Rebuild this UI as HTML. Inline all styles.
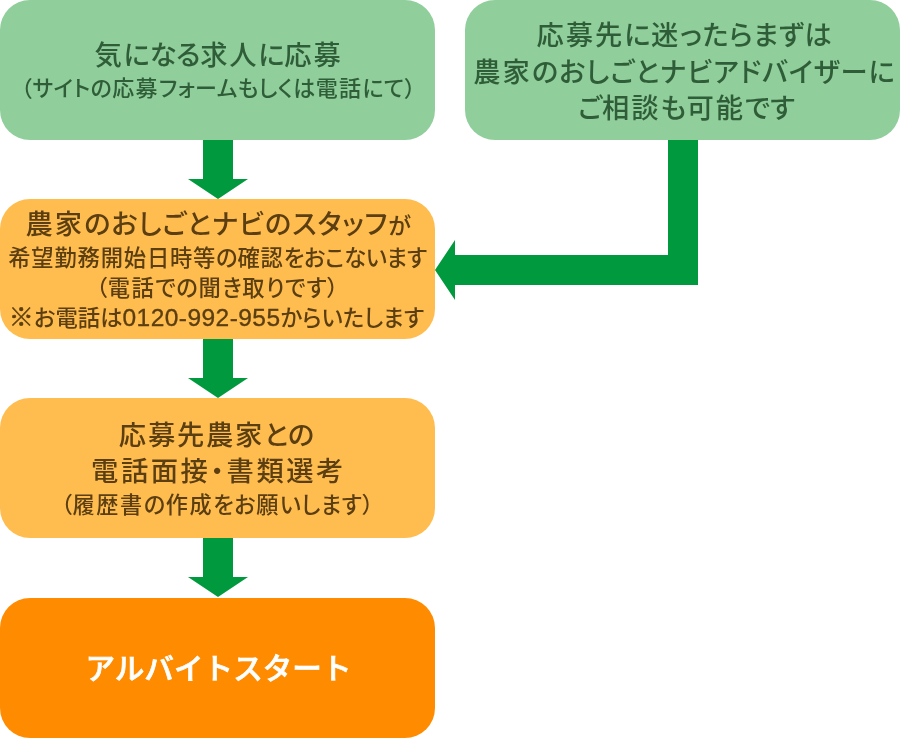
<!DOCTYPE html>
<html lang="ja">
<head>
<meta charset="utf-8">
<title>応募の流れ</title>
<style>
  html, body { margin: 0; padding: 0; background: #ffffff; }
  body { width: 900px; height: 738px; overflow: hidden; position: relative;
         font-family: "Liberation Sans", "Noto Sans CJK JP", sans-serif; font-weight: 500; }
  .box { position: absolute; border-radius: 30px; }
  .g  { background: #90ce9c; color: #2f5d37; }
  .y  { background: #ffbd4f; color: #5b3e12; }
  .o  { background: #ff8c00; color: #ffffff; }
  .ln { position: absolute; left: 0; width: 435px; text-align: center; white-space: nowrap; line-height: 1; will-change: transform; }
  .p { font-feature-settings: 'palt'; }
  .kome { font-size: 25px; line-height: 0; -webkit-text-stroke: 0.5px currentColor; }
  .num { font-size: 24.5px; line-height: 0; letter-spacing: 0.45px; -webkit-text-stroke: 0.35px currentColor; }
  svg.arrows { position: absolute; left: 0; top: 0; }
</style>
</head>
<body>

<!-- arrows (drawn under the boxes) -->
<svg class="arrows" width="900" height="738" viewBox="0 0 900 738">
  <g fill="#00993d">
    <polygon points="203,139 233,139 233,179 248,179 218,199 188,179 203,179"/>
    <polygon points="203,338 233,338 233,378 248,378 218,398 188,378 203,378"/>
    <polygon points="203,537 233,537 233,577 248,577 218,597 188,577 203,577"/>
    <polygon points="668,139 698,139 698,285 455,285 455,300 435,270 455,240 455,255 668,255"/>
  </g>
</svg>

<div class="box g" style="left:0px;top:0px;width:435px;height:140px;">
  <div id="b1l1" class="ln p" style="top:42px;left:1.45px;font-size:27.3px;letter-spacing:-0.29px;"><span style="letter-spacing:1.74px;">気</span>になる<span style="letter-spacing:1.74px;">求人</span>に<span style="letter-spacing:1.74px;">応募</span></div>
  <div id="b1l2" class="ln p" style="top:78px;left:0.91px;font-size:22px;letter-spacing:0.37px;">（サイトの<span style="letter-spacing:1.37px;">応募</span>フォームもしくは<span style="letter-spacing:1.37px;">電話</span>にて）</div>
</div>

<div class="box g" style="left:465px;top:0px;width:435px;height:140px;">
  <div id="b2l1" class="ln p" style="top:22px;left:2.20px;font-size:27.3px;letter-spacing:0.51px;"><span style="letter-spacing:1.92px;">応募先</span>に<span style="letter-spacing:1.92px;">迷</span>ったらまずは</div>
  <div id="b2l2" class="ln p" style="top:58.5px;left:1.88px;font-size:27.3px;letter-spacing:0.92px;"><span style="letter-spacing:2.07px;">農家</span>のおしごとナビアドバイザーに</div>
  <div id="b2l3" class="ln p" style="top:94.5px;left:3.63px;font-size:27.3px;letter-spacing:0.14px;">ご<span style="letter-spacing:1.94px;">相談</span>も<span style="letter-spacing:1.94px;">可能</span>です</div>
</div>

<div class="box y" style="left:0px;top:199px;width:435px;height:140px;">
  <div id="b3l1" class="ln p" style="top:12px;left:1.03px;font-size:27.3px;letter-spacing:0.87px;"><span style="letter-spacing:2.04px;">農家</span>のおしごとナビのスタッフ<span style="font-size:23px;">が</span></div>
  <div id="b3l2" class="ln p" style="top:48.5px;left:0.36px;font-size:22.3px;letter-spacing:-0.26px;"><span style="letter-spacing:0.81px;">希望勤務開始日時等</span>の<span style="letter-spacing:0.81px;">確認</span>をおこないます</div>
  <div id="b3l3" class="ln p" style="top:78.5px;left:0.38px;font-size:22.3px;letter-spacing:0.62px;">（<span style="letter-spacing:1.37px;">電話</span>での<span style="letter-spacing:1.37px;">聞</span>き<span style="letter-spacing:1.37px;">取</span>りです）</div>
  <div id="b3l4" class="ln p" style="top:108.5px;left:-1.12px;font-size:22.3px;letter-spacing:0.08px;"><span class="kome">※</span>お電話は<span class="num">0120-992-955</span><span style="letter-spacing:0.12px;">からいたします</span></div>
</div>

<div class="box y" style="left:0px;top:398px;width:435px;height:140px;">
  <div id="b4l1" class="ln p" style="top:24.3px;left:-0.81px;font-size:27.3px;letter-spacing:-0.01px;"><span style="letter-spacing:1.74px;">応募先農家</span>との</div>
  <div id="b4l2" class="ln p" style="top:60.3px;left:1.24px;font-size:27.3px;letter-spacing:2.54px;"><span style="letter-spacing:2.54px;">電話面接</span>・<span style="letter-spacing:2.54px;">書類選考</span></div>
  <div id="b4l3" class="ln p" style="top:96.5px;left:0.30px;font-size:22.2px;letter-spacing:0.56px;">（<span style="letter-spacing:1.56px;">履歴書</span>の<span style="letter-spacing:1.56px;">作成</span>をお<span style="letter-spacing:1.56px;">願</span>いします）</div>
</div>

<div class="box o" style="left:0px;top:598px;width:435px;height:140px;">
  <div id="b5l1" class="ln" style="top:55.9px;left:0.84px;font-size:29.6px;font-weight:500;-webkit-text-stroke:0.7px currentColor;letter-spacing:0.00px;">アルバイトスタート</div>
</div>

</body>
</html>
